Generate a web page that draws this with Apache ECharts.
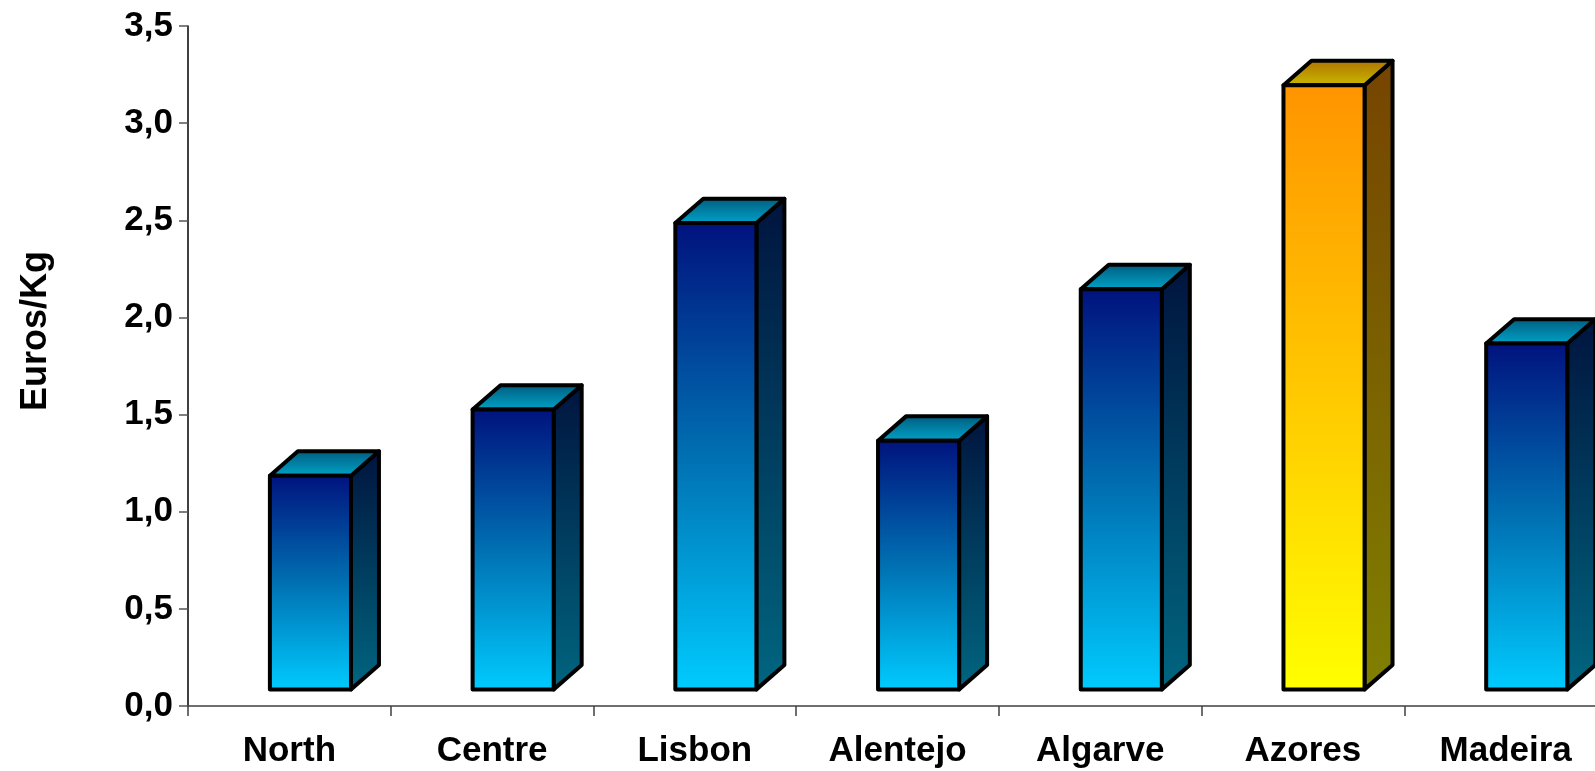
<!DOCTYPE html>
<html>
<head>
<meta charset="utf-8">
<script src="https://cdn.jsdelivr.net/npm/echarts@6/dist/echarts.min.js"></script>
<style>
  html, body { margin: 0; padding: 0; background: #ffffff; }
  #chart { width: 1595px; height: 771px; }
</style>
</head>
<body>
<div id="chart"></div>
<script>
// Average price per region (Euros/Kg)
const regions = ['North', 'Centre', 'Lisbon', 'Alentejo', 'Algarve', 'Azores', 'Madeira'];
const prices = [1.10, 1.44, 2.40, 1.28, 2.06, 3.11, 1.78];
const highlighted = ['Azores'];
const yTickLabels = ['0,0', '0,5', '1,0', '1,5', '2,0', '2,5', '3,0', '3,5'];

const blueFaces = {
  front: ['#00127e', '#0070b2', '#00ccff'],
  side: ['#00143e', '#006680'],
  top: ['#005a7c', '#00a6cc']
};
const goldFaces = {
  front: ['#ff9400', '#ffc800', '#ffff00'],
  side: ['#764400', '#808000'],
  top: ['#b07000', '#c8bc00']
};

function vGrad(stops) {
  const n = stops.length - 1;
  return new echarts.graphic.LinearGradient(0, 0, 0, 1,
    stops.map((c, i) => ({ offset: i / n, color: c })));
}

// Oblique 3D column: front face, right side and top, all sitting on a floor
// set slightly behind the category axis.
function renderBar(params, api) {
  const idx = api.value(0);
  const val = api.value(1);
  const base = api.coord([idx, 0]);
  const topPt = api.coord([idx, val]);
  const W = api.size([1, 0])[0];
  const bw = W * 0.4;
  const floorX = W * 0.104;
  const floorY = W * 0.082;
  const dx = W * 0.138;
  const dy = W * 0.12;
  const x1 = base[0] - bw / 2 + floorX;
  const x2 = x1 + bw;
  const yb = base[1] - floorY;
  const yt = topPt[1] - floorY;
  const faces = highlighted.indexOf(regions[idx]) >= 0 ? goldFaces : blueFaces;
  const stroke = { stroke: '#000000', lineWidth: 4, lineJoin: 'round' };
  return {
    type: 'group',
    children: [
      {
        type: 'polygon',
        shape: { points: [[x2, yt], [x2 + dx, yt - dy], [x2 + dx, yb - dy], [x2, yb]] },
        style: Object.assign({ fill: vGrad(faces.side) }, stroke)
      },
      {
        type: 'polygon',
        shape: { points: [[x1, yt], [x1 + dx, yt - dy], [x2 + dx, yt - dy], [x2, yt]] },
        style: Object.assign({ fill: vGrad(faces.top) }, stroke)
      },
      {
        type: 'rect',
        shape: { x: x1, y: yt, width: bw, height: yb - yt },
        style: Object.assign({ fill: vGrad(faces.front) }, stroke)
      }
    ]
  };
}

const chart = echarts.init(document.getElementById('chart'), null, { renderer: 'canvas' });
chart.setOption({
  backgroundColor: '#ffffff',
  animation: false,
  grid: {
    left: 188, right: -12, top: 26, bottom: 65,
    containLabel: false,
    outerBoundsMode: 'none'
  },
  xAxis: {
    type: 'category',
    data: regions,
    axisLine: { lineStyle: { color: '#404040', width: 1.5 } },
    axisTick: { show: true, length: 10, lineStyle: { color: '#404040', width: 1.5 } },
    axisLabel: {
      margin: 28,
      color: '#000000',
      fontFamily: 'Liberation Sans, Arial, sans-serif',
      fontWeight: 'bold',
      fontSize: 35
    }
  },
  yAxis: {
    type: 'value',
    min: 0,
    max: 3.5,
    interval: 0.5,
    splitLine: { show: false },
    axisLine: { show: true, lineStyle: { color: '#000000', width: 1.5 } },
    axisTick: { show: true, length: 9, lineStyle: { color: '#555555', width: 1.5 } },
    axisLabel: {
      margin: 15,
      color: '#000000',
      fontFamily: 'Liberation Sans, Arial, sans-serif',
      fontWeight: 'bold',
      fontSize: 35,
      formatter: (v) => yTickLabels[Math.round(v / 0.5)]
    }
  },
  graphic: [{
    type: 'text',
    x: 36,
    y: 331,
    rotation: Math.PI / 2,
    style: {
      text: 'Euros/Kg',
      fill: '#000000',
      fontFamily: 'Liberation Sans, Arial, sans-serif',
      fontWeight: 'bold',
      fontSize: 36,
      align: 'center',
      verticalAlign: 'middle'
    }
  }],
  series: [{
    type: 'custom',
    renderItem: renderBar,
    clip: false,
    encode: { x: 0, y: 1 },
    data: prices.map((p, i) => [i, p])
  }]
});
</script>
</body>
</html>
